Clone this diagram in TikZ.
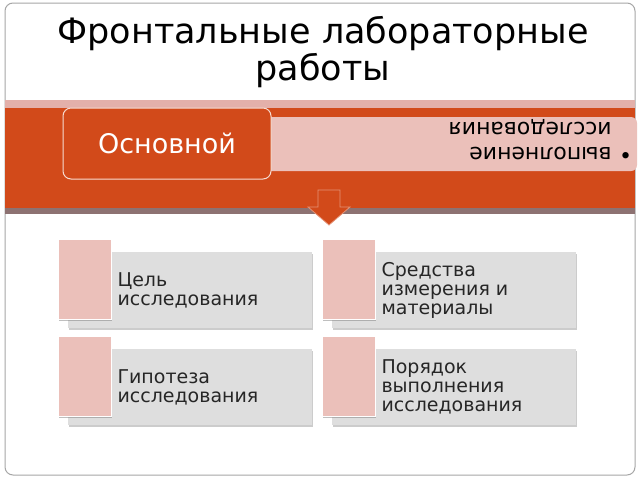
\documentclass[tikz,border=0pt]{standalone}
\usepackage{fontspec}
\setmainfont{DejaVu Sans}
\definecolor{org}{HTML}{D24A1A}
\definecolor{pnk}{HTML}{EBC0BA}
\definecolor{pnk2}{HTML}{E3B0AA}
\definecolor{gr}{HTML}{DEDEDE}
\tikzset{
 sq/.style={fill=pnk,draw=white,line width=0.6pt,drop shadow={shadow xshift=1pt,shadow yshift=-1.5pt,opacity=0.5}},
 gbox/.style={fill=gr,drop shadow={shadow xshift=1pt,shadow yshift=-1.5pt,opacity=0.4}},
 itxt/.style={anchor=west,align=left,font=\fontsize{19}{19}\selectfont,text=black!85}
}
\usetikzlibrary{shadows}
\begin{document}
\begin{tikzpicture}[x=1pt,y=-1pt]
\useasboundingbox (0,0) rectangle (640,480);
\fill[white] (0,0) rectangle (640,480);
\draw[gray!70,line width=1pt,rounded corners=8pt] (5,3) rectangle (635,475);
\node (title) at (323,52) [align=center,font=\fontsize{35}{37}\selectfont] {Фронтальные лабораторные\\работы};
\fill[pnk2] (5,100) rectangle (635,108);
\fill[org] (5,108) rectangle (635,208);
\fill[gray!65!red!30!gray] (5,208) rectangle (635,214);
\fill[pnk,rounded corners=6pt] (260,117) rectangle (637,171);
\node (bul) at (462,140) [rotate=180,align=left,anchor=center,text width=340pt,font=\fontsize{22}{25}\selectfont] {\textbullet\ выполнение\\\phantom{\textbullet\ }исследования};
\node (main) [draw=white!80!org,line width=1pt,fill=org,rounded corners=8pt,minimum width=208pt,minimum height=71pt,font=\fontsize{27}{29}\selectfont,text=white] at (167,143.5) {Основной};
\draw[fill=org,draw=org!60!white,line width=0.8pt] (318,190) -- (340,190) -- (340,207) -- (350,207) -- (329,225) -- (308,207) -- (318,207) -- cycle;
\foreach \x/\y/\n/\t in {58/239/a/{Цель\\исследования},322/239/b/{Средства\\измерения и\\материалы},58/336/c/{Гипотеза\\исследования},322/336/d/{Порядок\\выполнения\\исследования}}{
 \fill[gbox] (\x+10,\y+13) rectangle (\x+254,\y+89);
 \path[sq] (\x,\y) rectangle (\x+53,\y+80);
 \node[itxt] (\n) at (\x+56,\y+51) {\t};
}
\end{tikzpicture}
\end{document}
